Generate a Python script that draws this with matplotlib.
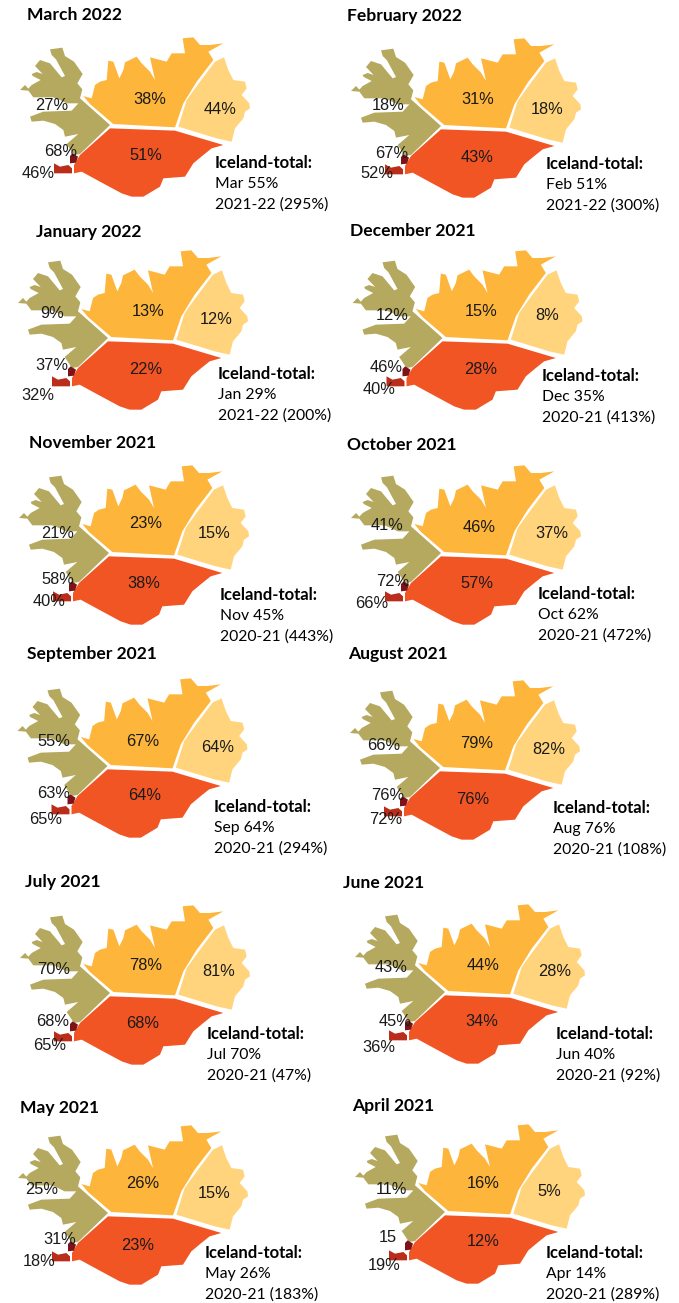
import matplotlib
matplotlib.use('Agg')
import matplotlib.pyplot as plt

# values, panel order left to right, top to bottom
titles = ['March 2022', 'February 2022', 'January 2022', 'December 2021', 'November 2021', 'October 2021',
          'September 2021', 'August 2021', 'July 2021', 'June 2021', 'May 2021', 'April 2021']
west = [27, 18, 9, 12, 21, 41, 55, 66, 70, 43, 25, 11]
north = [38, 31, 13, 15, 23, 46, 67, 79, 78, 44, 26, 16]
east = [44, 18, 12, 8, 15, 37, 64, 82, 81, 28, 15, 5]
south = [51, 43, 22, 28, 38, 57, 64, 76, 68, 34, 23, 12]
capital = ['68%', '67%', '37%', '46%', '58%', '72%', '63%', '76%', '68%', '45%', '31%', '15']
southwest = [46, 52, 32, 40, 40, 66, 65, 72, 65, 36, 18, 19]
months = ['Mar', 'Feb', 'Jan', 'Dec', 'Nov', 'Oct', 'Sep', 'Aug', 'Jul', 'Jun', 'May', 'Apr']
total = [55, 51, 29, 35, 45, 62, 64, 76, 70, 40, 26, 14]
seasons = ['2021-22', '2021-22', '2021-22', '2020-21', '2020-21', '2020-21',
           '2020-21', '2020-21', '2020-21', '2020-21', '2020-21', '2020-21']
season_pct = [295, 300, 200, 413, 443, 472, 294, 108, 47, 92, 183, 289]

# map outlines, traced at 3x from the first panel
west_shape = [(150,148),(187,143),(195,168),(222,185),(248,222),(232,250),(247,268),(240,295),(330,375),(240,462),
              (222,465),(200,432),(235,402),(195,410),(190,390),(165,372),(130,362),(95,365),(90,350),(130,335),
              (215,332),(235,310),(200,310),(180,300),(160,292),(100,292),(85,272),(60,270),(75,255),(85,266),
              (95,255),(122,240),(98,228),(95,222),(110,216),(128,222),(105,198),(120,180),(150,190),(185,232),
              (195,228),(168,178),(155,165)]
north_shape = [(250,288),(275,295),(285,255),(300,245),(320,240),(325,182),(340,185),(358,235),(370,210),(375,187),
               (410,170),(425,190),(450,215),(465,240),(450,172),(500,185),(515,160),(555,160),(548,115),(580,112),
               (600,135),(630,135),(670,130),(625,155),(640,180),(590,245),(550,310),(525,382),(340,372),(270,312)]
east_shape = [(645,185),(672,172),(685,210),(700,240),(735,245),(740,265),(725,285),(748,310),(750,325),(735,335),
              (730,355),(705,385),(695,425),(650,415),(535,380),(560,300),(600,245)]
south_shape = [(330,385),(525,392),(670,435),(635,445),(610,465),(580,490),(555,530),(490,535),(480,560),(430,590),
               (395,590),(365,580),(300,545),(245,515),(222,520),(222,495),(240,465)]
capital_shape = [(210,468),(218,460),(234,470),(228,488),(210,490)]
southwest_shape = [(162,490),(180,500),(205,495),(216,505),(216,520),(162,520)]
shapes = [west_shape, north_shape, east_shape, south_shape, capital_shape, southwest_shape]
colors = ['#B5A95F', '#FDB53B', '#FFD47C', '#F15524', '#7D1318', '#B92D1A']

# layout in pixels
map_dx = [0, 331, -2, 332.5, -1, 331, -2.5, 330, 0, 335, -2, 335]
map_dy = [0, 1, 213, 213, 428, 428, 641, 643, 868, 867, 1088, 1087]
title_pos = [(27,15),(347,15),(36,231),(350,230),(29,443),(347,444),(27,654),(348,654),(25,882),(343,882),(20,1108),(352,1106)]
west_pos = [(52,105),(388,105),(52,312),(392,314),(58,533),(387,525),(54,741),(384,745),(54,969),(391,967),(42,1189),(391,1188)]
north_pos = [(150,98),(478,98),(148,311),(481,310),(146,523),(479,527),(143,740),(477,742),(146,965),(483,964),(143,1182),(483,1182)]
east_pos = [(220,108),(547,109),(216,319),(547,314),(214,533),(552,532),(218,747),(549,748),(219,971),(555,971),(214,1192),(549,1190)]
south_pos = [(146,155),(477,157),(146,369),(481,368),(144,582),(477,583),(145,794),(473,798),(143,1022),(482,1020),(138,1244),(483,1241)]
capital_pos = [(61,151),(392,152),(52,365),(386,367),(58,578),(393,580),(54,792),(388,795),(53,1021),(395,1020),(60,1239),(388,1237)]
southwest_pos = [(38,173),(377,173),(38,394),(379,388),(49,601),(372,603),(46,818),(386,819),(50,1044),(379,1046),(39,1260),(384,1264)]
total_pos = [(215,162),(546,163),(218,373),(542,375),(220,594),(538,593),(214,806),(553,807),(207,1033),(556,1033),(205,1252),(546,1252)]

fig = plt.figure(figsize=(6.79, 13.03), dpi=100)
ax = fig.add_axes([0, 0, 1, 1])
ax.set_xlim(0, 679)
ax.set_ylim(1303, 0)
ax.axis('off')

for i in range(12):
    for shape, color in zip(shapes, colors):
        ax.fill([p[0] / 3 + map_dx[i] for p in shape], [p[1] / 3 + map_dy[i] for p in shape], color=color, lw=0)

    ax.text(title_pos[i][0], title_pos[i][1] + 0.5, titles[i], fontsize=12.6, family='Lato', weight='bold', va='center')

    labels = [f'{west[i]}%', f'{north[i]}%', f'{east[i]}%', f'{south[i]}%', capital[i], f'{southwest[i]}%']
    positions = [west_pos[i], north_pos[i], east_pos[i], south_pos[i], capital_pos[i], southwest_pos[i]]
    for lab, pos in zip(labels, positions):
        ax.text(pos[0], pos[1] + 1, lab, fontsize=11.8, family='Liberation Sans', ha='center', va='center', color='#1a1a1a')

    x, y = total_pos[i]
    ax.text(x, y + 1, 'Iceland-total:', fontsize=12, family='Lato', weight='bold', va='center')
    ax.text(x, y + 22, f'{months[i]} {total[i]}%', fontsize=11.3, family='Lato', va='center')
    ax.text(x, y + 43, f'{seasons[i]} ({season_pct[i]}%)', fontsize=11.3, family='Lato', va='center')

plt.savefig('out.png', dpi=100)
